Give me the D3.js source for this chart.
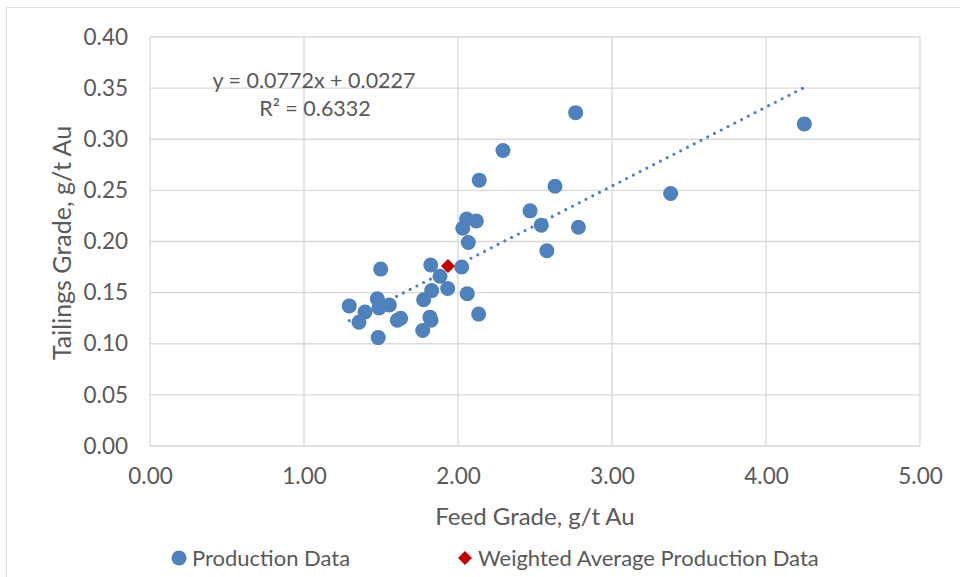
<!DOCTYPE html>
<html><head><meta charset="utf-8">
<script src="https://cdn.jsdelivr.net/npm/d3@7"></script>
<style>
html,body{margin:0;padding:0;background:#fff;}
svg text{font-family:"Lato","Open Sans",sans-serif;fill:#595959;}
</style></head>
<body><svg id="c" width="960" height="577"></svg>
<script>
// Production data: feed grade (g/t Au) and tailings grade (g/t Au)
const feedGrade = [2.764,4.249,2.292,2.138,2.630,3.381,2.468,2.056,2.119,2.541,2.782,2.031,2.067,2.577,
  1.498,1.823,2.024,1.883,1.829,1.933,2.060,1.476,1.777,1.294,1.554,1.487,1.396,2.134,1.357,1.628,1.606,1.818,1.825,1.771,1.482];
const tailingsGrade = [0.326,0.315,0.289,0.260,0.254,0.247,0.230,0.222,0.220,0.216,0.214,0.213,0.199,0.191,
  0.173,0.177,0.175,0.166,0.152,0.154,0.149,0.144,0.143,0.137,0.138,0.135,0.131,0.129,0.121,0.125,0.123,0.126,0.123,0.113,0.106];
const weightedFeed = [1.935];
const weightedTailings = [0.176];
const trendSlope = 0.0772, trendIntercept = 0.0227;
const rSquared = "0.6332";
const xTicks = [0,1,2,3,4,5];
const yTicks = [0,0.05,0.10,0.15,0.20,0.25,0.30,0.35,0.40];
const legendLabels = ["Production Data","Weighted Average Production Data"];

const svg = d3.select("#c");
const L=150,R=920,T=37,B=446;
const x = d3.scaleLinear().domain([0,5]).range([L,R]);
const y = d3.scaleLinear().domain([0,0.4]).range([B,T]);
const diamond = "M0,-7L7,0L0,7L-7,0Z";

// chart border
svg.append("path").attr("d","M6.5,580 V7.5 H965").attr("fill","none").attr("stroke","#d9d9d9").attr("stroke-width",1);

// gridlines
svg.append("g").selectAll("line").data(yTicks).join("line")
  .attr("x1",L).attr("x2",R).attr("y1",d=>y(d)).attr("y2",d=>y(d))
  .attr("stroke","#d9d9d9").attr("stroke-width",1.3);
svg.append("g").selectAll("line").data(xTicks).join("line")
  .attr("y1",T).attr("y2",B).attr("x1",d=>x(d)).attr("x2",d=>x(d))
  .attr("stroke","#d9d9d9").attr("stroke-width",1.3);

// axes labels via d3 axes
const ya = svg.append("g").attr("transform",`translate(${L},0)`)
  .call(d3.axisLeft(y).tickValues(yTicks).tickFormat(d3.format(".2f")).tickSize(0).tickPadding(22));
const xa = svg.append("g").attr("transform",`translate(0,${B})`)
  .call(d3.axisBottom(x).tickValues(xTicks).tickFormat(d3.format(".2f")).tickSize(0).tickPadding(22));
[ya,xa].forEach(a=>{a.select(".domain").remove();a.selectAll("text").attr("font-size",22.5).attr("fill","#595959").attr("font-family",null);});

// axis titles
svg.append("text").attr("x",535).attr("y",525).attr("text-anchor","middle").attr("font-size",24).text("Feed Grade, g/t Au");
svg.append("text").attr("transform","translate(71,243) rotate(-90)").attr("text-anchor","middle").attr("font-size",25).text("Tailings Grade, g/t Au");

// trendline
const xmin=d3.min(feedGrade), xmax=d3.max(feedGrade);
svg.append("line").attr("x1",x(xmin)).attr("y1",y(trendSlope*xmin+trendIntercept))
  .attr("x2",x(xmax)).attr("y2",y(trendSlope*xmax+trendIntercept))
  .attr("stroke","#4F81BD").attr("stroke-width",3.2).attr("stroke-linecap","round").attr("stroke-dasharray","0 7.6");

// points
const pts = feedGrade.map((f,i)=>({f,t:tailingsGrade[i]}));
svg.append("g").selectAll("circle").data(pts).join("circle")
  .attr("cx",d=>x(d.f)).attr("cy",d=>y(d.t)).attr("r",7.5).attr("fill","#4F81BD");

// weighted average diamond
svg.append("g").selectAll("path").data(weightedFeed.map((f,i)=>({f,t:weightedTailings[i]}))).join("path")
  .attr("d",diamond)
  .attr("transform",d=>`translate(${x(d.f)},${y(d.t)})`).attr("fill","#C00000");

// equation
svg.append("text").attr("x",314).attr("y",88).attr("text-anchor","middle").attr("font-size",21.5).text(`y = ${trendSlope}x + ${trendIntercept}`);
svg.append("text").attr("x",315).attr("y",116).attr("text-anchor","middle").attr("font-size",21.5).text(`R² = ${rSquared}`);

// legend
const lg = svg.append("g");
lg.append("circle").attr("cx",179).attr("cy",558).attr("r",7.5).attr("fill","#4F81BD");
lg.append("text").attr("x",192).attr("y",566).attr("font-size",22).text(legendLabels[0]);
lg.append("path").attr("d",diamond).attr("transform","translate(465,558)").attr("fill","#C00000");
lg.append("text").attr("x",478).attr("y",566).attr("font-size",22).text(legendLabels[1]);
</script></body></html>
